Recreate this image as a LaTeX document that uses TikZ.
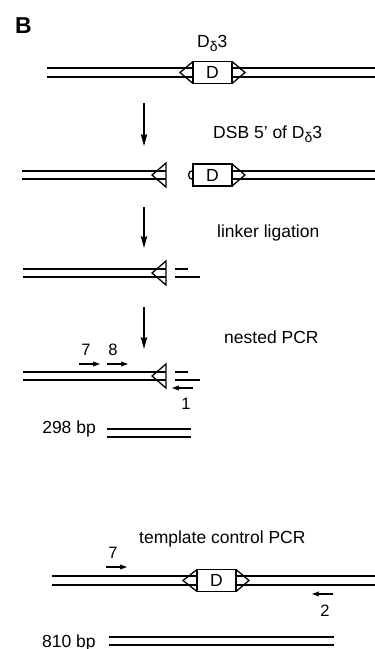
\documentclass[tikz,border=0pt]{standalone}
\usepackage{fontspec}
\setmainfont{Liberation Sans}
\usetikzlibrary{arrows.meta}
\tikzset{
  strand/.style={line width=1.1pt},
  dseg/.style={draw,line width=1.3pt,fill=white,minimum width=39pt,minimum height=22pt,
               inner sep=0pt,outer sep=0pt,font=\fontsize{17.5}{20}\selectfont},
  rss/.style={line width=1.3pt,line join=miter},
  stage/.style={-{Stealth[length=12pt,width=6.5pt,inset=2pt]},line width=1.2pt},
  primer/.style={-{Stealth[length=7pt,width=5pt,inset=1pt]},line width=1.1pt},
  txt/.style={font=\fontsize{17.5}{20}\selectfont,inner sep=0pt,anchor=base west},
  num/.style={font=\fontsize{16.5}{19}\selectfont,inner sep=0pt,anchor=base}
}
\newcommand{\ddelta}{D\raisebox{-0.45ex}{\fontsize{14}{16}\selectfont δ}3}

\begin{document}
\begin{tikzpicture}[x=1pt,y=-1pt]
    \useasboundingbox (0,0) rectangle (375,649);
    \node[font=\fontsize{23}{26}\selectfont\bfseries,inner sep=0pt,anchor=base west] (panel) at (15,33) {B};
    \node[txt] (lbltop) at (197,47) {\ddelta};
    \draw[strand] (47,68) -- (193,68) (47,77) -- (193,77) (232,68) -- (375,68) (232,77) -- (375,77);
    \node[dseg] (dA) at (212.5,72.5) {D};
    \draw[rss] (dA.north west) -- ++(-13,11) -- (dA.south west);
    \draw[rss] (dA.north east) -- ++(13,11) -- (dA.south east);

    \coordinate (s1) at (144,103);
    \coordinate (e1) at (144,146);
    \draw[stage] (s1) -- (e1);
    \node[txt] (lbldsb) at (213,138) {DSB 5’ of \ddelta};
    \draw[strand] (22,171) -- (166,171) (22,179) -- (166,179) (232,171) -- (375,171) (232,179) -- (375,179);
    \draw[rss] (166,163) -- (152,175) -- (166,187) -- cycle;
    \node[dseg] (dB) at (212.5,175) {D};
    \draw[rss] (dB.north east) -- ++(13,11) -- (dB.south east);
    \draw[rss] (dB.west) ++(0,-4.5) arc[start angle=270,end angle=90,radius=4.5];

    \coordinate (s2) at (144,207);
    \coordinate (e2) at (144,248);
    \draw[stage] (s2) -- (e2);
    \node[txt] (lbllig) at (217,237) {linker ligation};
    \draw[strand] (23,269) -- (166,269) (23,277) -- (166,277);
    \draw[rss] (166,261) -- (152,273) -- (166,285) -- cycle;
    \draw[strand] (175,269) -- (188,269) (175,277) -- (200,277);

    \coordinate (s3) at (144,307);
    \coordinate (e3) at (144,349);
    \draw[stage] (s3) -- (e3);
    \node[txt] (lblnest) at (224,343) {nested PCR};
    \draw[strand] (23,372) -- (166,372) (23,380) -- (166,380);
    \draw[rss] (166,364) -- (152,376) -- (166,388) -- cycle;
    \draw[strand] (175,372) -- (188,372) (175,380) -- (200,380);
    \node[num] (n7) at (86,355) {7};
    \node[num] (n8) at (113,355) {8};
    \node[num] (n1) at (186,409) {1};
    \coordinate (p7a) at (79,364);
    \coordinate (p7b) at (100,364);
    \coordinate (p8a) at (107,364);
    \coordinate (p8b) at (128,364);
    \coordinate (p1a) at (193,388);
    \coordinate (p1b) at (172,388);
    \draw[primer] (p7a) -- (p7b);
    \draw[primer] (p8a) -- (p8b);
    \draw[primer] (p1a) -- (p1b);
    \node[txt,anchor=base east] (bp298) at (96,433) {298 bp};
    \draw[strand] (107,429) -- (191,429) (107,437) -- (191,437);

    \node[txt] (lbltpl) at (139,543) {template control PCR};
    \draw[strand] (52,576) -- (197,576) (52,585) -- (197,585) (236,576) -- (375,576) (236,585) -- (375,585);
    \node[dseg] (dC) at (216.5,580.5) {D};
    \draw[rss] (dC.north west) -- ++(-14,11) -- (dC.south west);
    \draw[rss] (dC.north east) -- ++(13,11) -- (dC.south east);
    \node[num] (m7) at (113,558) {7};
    \node[num] (m2) at (325,616) {2};
    \coordinate (q7a) at (106,567);
    \coordinate (q7b) at (127,567);
    \coordinate (q2a) at (333,594);
    \coordinate (q2b) at (312,594);
    \draw[primer] (q7a) -- (q7b);
    \draw[primer] (q2a) -- (q2b);
    \node[txt] (bp810) at (42,647) {810 bp};
    \draw[strand] (109,637) -- (334,637) (109,645) -- (334,645);
\end{tikzpicture}
\end{document}
